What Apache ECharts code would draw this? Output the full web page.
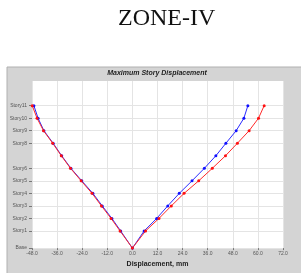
<!DOCTYPE html>
<html>
<head>
<meta charset="utf-8">
<script src="https://cdn.jsdelivr.net/npm/echarts@6/dist/echarts.min.js"></script>
<style>
  html, body { margin: 0; padding: 0; background: #fff; }
  #main { width: 301px; height: 273px; }
</style>
</head>
<body>
<div id="main"></div>
<script>
var chart = echarts.init(document.getElementById('main'));

// story levels, bottom to top (elevation in m)
var storyNames = ['Base', 'Story1', 'Story2', 'Story3', 'Story4', 'Story5', 'Story6',
                  'Story7', 'Story8', 'Story9', 'Story10', 'Story11'];
var storyElev = [0, 4.1, 7.1, 10.1, 13.1, 16.1, 19.1, 22.1, 25.1, 28.1, 31.1, 34.1];
// stories that carry a label / grid line on the axis
var labelStories = ['Base', 'Story1', 'Story2', 'Story3', 'Story4', 'Story5', 'Story6',
                    'Story8', 'Story9', 'Story10', 'Story11'];

// displacements (mm) Story1..Story11, Base is 0
var blueNeg = [-5.6, -9.8, -14.4, -18.9, -24.2, -29.4, -33.8, -37.9, -42.3, -45.1, -47.1];
var bluePos = [5.6, 11.6, 16.9, 22.4, 28.5, 34.4, 39.9, 44.7, 49.6, 53.3, 55.2];
var redNeg = [-5.9, -10.2, -14.8, -19.3, -24.5, -29.6, -34.0, -38.1, -42.5, -45.6, -47.9];
var redPos = [6.3, 12.7, 18.6, 24.7, 31.7, 38.2, 44.5, 50.2, 55.8, 60.3, 63.0];

var xTicks = [-48, -36, -24, -12, 0, 12, 24, 36, 48, 60, 72];

function buildLine(neg, pos) {
    var pts = [];
    for (var i = neg.length - 1; i >= 0; i--) pts.push([neg[i], storyElev[i + 1]]);
    pts.push([0, storyElev[0]]);
    for (var j = 0; j < pos.length; j++) pts.push([pos[j], storyElev[j + 1]]);
    return pts;
}

var labelElev = labelStories.map(function (s) { return storyElev[storyNames.indexOf(s)]; });
var nameByElev = {};
storyElev.forEach(function (e, i) { nameByElev[e.toFixed(1)] = storyNames[i]; });

var option = {
    animation: false,
    title: [
        {
            text: 'ZONE-IV',
            left: 118,
            top: 7,
            padding: 0,
            textStyle: { fontFamily: 'Liberation Serif', fontWeight: 'normal', fontSize: 24, color: '#111' }
        },
        {
            text: 'Maximum Story Displacement',
            left: 157,
            textAlign: 'center',
            top: 70,
            padding: 0,
            textStyle: { fontFamily: 'Liberation Sans', fontWeight: 'bold', fontStyle: 'italic', fontSize: 7, color: '#222' }
        }
    ],
    graphic: [
        {
            type: 'rect',
            z: -10,
            shape: { x: 7, y: 67, width: 300, height: 210 },
            style: { fill: '#d4d4d4', stroke: '#b0b0b0', lineWidth: 1 }
        }
    ],
    grid: {
        left: 32, right: 18, top: 81, bottom: 18,
        show: true,
        backgroundColor: '#ffffff',
        borderWidth: 0
    },
    xAxis: {
        type: 'value',
        min: xTicks[0],
        max: xTicks[xTicks.length - 1],
        interval: 12,
        name: 'Displacement, mm',
        nameLocation: 'middle',
        nameGap: 11,
        nameTextStyle: { fontFamily: 'Liberation Sans', fontWeight: 'bold', fontSize: 7, color: '#222' },
        axisLine: { show: false, onZero: false },
        axisTick: { show: true, length: 2, lineStyle: { color: '#777' } },
        axisLabel: {
            fontFamily: 'Liberation Sans', fontSize: 5, color: '#555', margin: 3,
            formatter: function (v) { return v.toFixed(1); }
        },
        splitLine: { show: true, lineStyle: { color: '#e4e4e4', width: 1 } }
    },
    yAxis: {
        type: 'value',
        min: 0,
        max: 40,
        axisLine: { show: false, onZero: false },
        axisTick: { show: true, length: 3, customValues: labelElev, lineStyle: { color: '#777' } },
        axisLabel: {
            customValues: labelElev,
            fontFamily: 'Liberation Sans', fontSize: 5, color: '#555', margin: 5,
            formatter: function (v) { return nameByElev[v.toFixed(1)] || ''; }
        },
        splitLine: { show: true, lineStyle: { color: '#e4e4e4', width: 1 } }
    },
    series: [
        {
            name: 'blue',
            type: 'line',
            data: buildLine(blueNeg, bluePos),
            symbol: 'circle',
            symbolSize: 3,
            lineStyle: { color: '#2a2aff', width: 1 },
            itemStyle: { color: '#1010ff' }
        },
        {
            name: 'red',
            type: 'line',
            data: buildLine(redNeg, redPos),
            symbol: 'circle',
            symbolSize: 3,
            lineStyle: { color: '#ff2a2a', width: 1 },
            itemStyle: { color: '#ff1010' }
        }
    ]
};

chart.setOption(option);
</script>
</body>
</html>
